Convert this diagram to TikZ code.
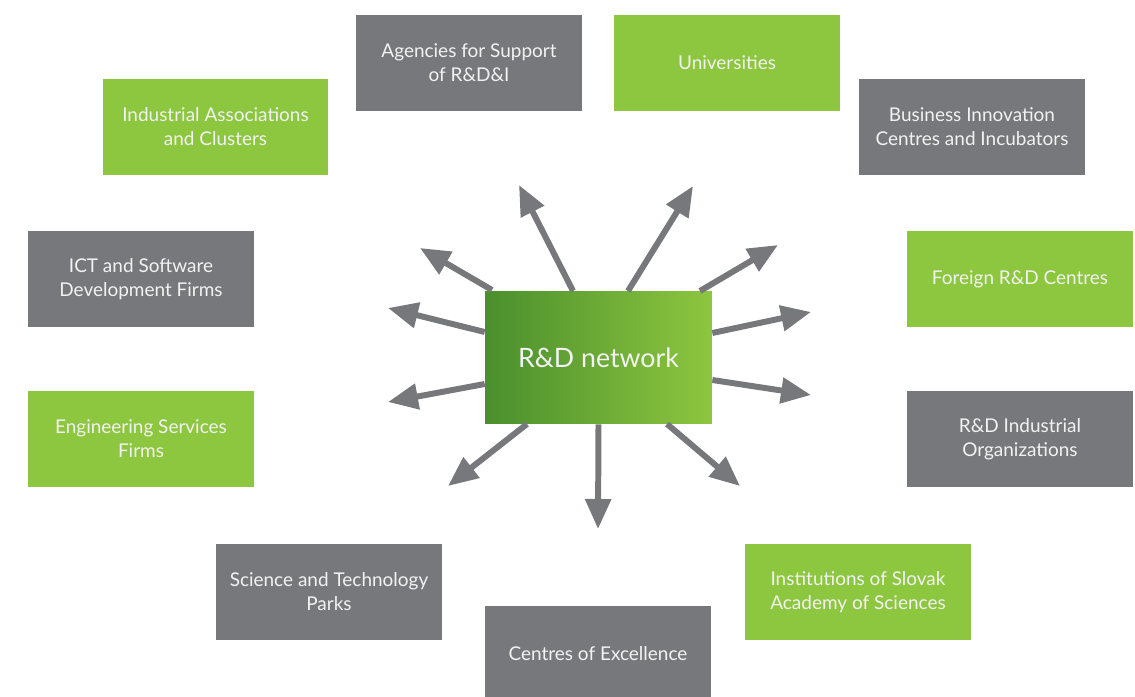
\documentclass[tikz,border=0pt]{standalone}
\usepackage{fontspec}
\setmainfont{Lato}
\usetikzlibrary{arrows.meta}
\definecolor{boxgray}{HTML}{77787B}
\definecolor{boxgreen}{HTML}{8DC63F}
\definecolor{darkgreen}{HTML}{4B8F2E}
\definecolor{txt}{HTML}{F2F2F2}
\begin{document}
\begin{tikzpicture}[x=0.02cm,y=-0.02cm,
	actor/.style={minimum width=4.52cm,minimum height=1.92cm,inner sep=2pt,
		text=txt,align=center,font=\fontsize{10.8}{13.6}\selectfont},
	grayactor/.style={actor,fill=boxgray},
	greenactor/.style={actor,fill=boxgreen},
	link/.style={boxgray,line width=3.4pt,-{Triangle[length=0.6cm,width=0.5cm]}}]
	\useasboundingbox (0,0) rectangle (1135,696);
	
	\node[grayactor]  (agencies)  at (469,63)   {Agencies for Support\\of R\&D\&I};
	\node[greenactor] (univ)      at (727,63)   {Universities};
	\node[greenactor] (assoc)     at (215.5,127) {Industrial Associations\\and Clusters};
	\node[grayactor]  (bic)       at (972,127)  {Business Innovation\\Centres and Incubators};
	\node[grayactor]  (ict)       at (141,279)  {ICT and Software\\Development Firms};
	\node[greenactor] (foreign)   at (1020,279) {Foreign R\&D Centres};
	\node[greenactor] (eng)       at (141,439)  {Engineering Services\\Firms};
	\node[grayactor]  (industrial) at (1020,439) {R\&D Industrial\\Organizations};
	\node[grayactor]  (parks)     at (329,592)  {Science and Technology\\Parks};
	\node[greenactor] (sas)       at (858,592)  {Institutions of Slovak\\Academy of Sciences};
	\node[grayactor]  (excel)     at (598,654)  {Centres of Excellence};
	
	\node[minimum width=4.54cm,minimum height=2.66cm,left color=darkgreen,right color=boxgreen,
		text=txt,font=\fontsize{15.2}{18}\selectfont] (net) at (598.5,357.5) {R\&D network};
	
	% free arrow ends
	\coordinate (e1) at (519,185);
	\coordinate (e2) at (693,186);
	\coordinate (e3) at (420,248);
	\coordinate (e4) at (778,245);
	\coordinate (e5) at (388,308);
	\coordinate (e6) at (811,312);
	\coordinate (e7) at (388,402);
	\coordinate (e8) at (811,395);
	\coordinate (e9) at (448,486);
	\coordinate (e10) at (598,529);
	\coordinate (e11) at (740,486);
	
	\draw[link] (573,291) -- (e1);
	\draw[link] (628,291) -- (e2);
	\draw[link] (492,290) -- (e3);
	\draw[link] (700,291) -- (e4);
	\draw[link] (net.west |- 0,332) -- (e5);
	\draw[link] (net.east |- 0,333) -- (e6);
	\draw[link] (net.west |- 0,384) -- (e7);
	\draw[link] (net.east |- 0,380) -- (e8);
	\draw[link] (527,424) -- (e9);
	\draw[link] (net.south) -- (e10);
	\draw[link] (667,424) -- (e11);
\end{tikzpicture}
\end{document}
